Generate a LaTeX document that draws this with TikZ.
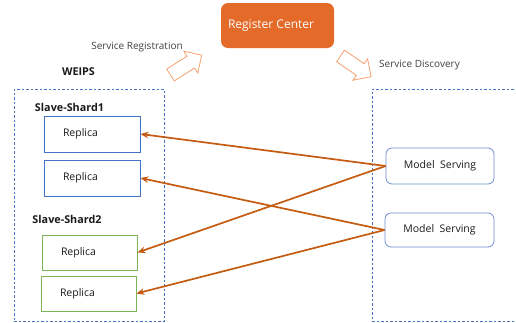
\documentclass[tikz,border=0pt]{standalone}
\usepackage{fontspec}
\setmainfont{Open Sans}
\usetikzlibrary{arrows.meta}
\definecolor{regorange}{HTML}{E46A2A}
\definecolor{arroworange}{HTML}{F4A070}
\definecolor{connorange}{HTML}{C55A11}
\definecolor{boxblue}{HTML}{4472C4}
\definecolor{msblue}{HTML}{6F8FD2}
\definecolor{boxgreen}{HTML}{7DB65A}
\definecolor{txt}{HTML}{1A1A1A}
\definecolor{lighttxt}{HTML}{404040}
\tikzset{
  dashbox/.style={draw=boxblue, line width=0.8pt, dash pattern=on 2.5pt off 2pt},
  replicabox/.style={draw=boxblue, line width=0.8pt, inner xsep=19pt, text width=58pt, align=left, minimum height=36pt, font=\fontsize{10.5}{12}\selectfont, text=txt},
  greenbox/.style={replicabox, draw=boxgreen},
  msbox/.style={draw=msblue, line width=0.8pt, rounded corners=6pt, minimum height=36pt, minimum width=108pt, font=\fontsize{10.5}{12}\selectfont, text=txt},
  conn/.style={draw=connorange, line width=1.7pt, -{Stealth[length=8pt,width=6.5pt]}},
  blockarrow/.style={draw=arroworange, line width=0.8pt, line join=miter},
  lbl/.style={font=\fontsize{10}{12}\selectfont, text=lighttxt, inner sep=0pt},
  head/.style={font=\bfseries\fontsize{10.8}{12}\selectfont, text=txt, inner sep=0pt}
}
\begin{document}
\begin{tikzpicture}[x=1pt,y=-1pt]
\useasboundingbox (0,0) rectangle (516,322);
% register center
\node[fill=regorange, rounded corners=7pt, minimum width=113pt, minimum height=45pt] (reg) at (277.5,25.5) {};
\node[font=\fontsize{12}{14}\selectfont, text=white, inner sep=0pt] (regtext) at (271,25.5) {Register Center};
% labels
\node[lbl] (sreg) at (137,47) {Service Registration};
\node[lbl] (sdisc) at (419.5,65) {Service Discovery};
% block arrows
\draw[blockarrow] (174.3,80.9) -- (194.5,68.0) -- (197.8,73.1) -- (201.7,55.2) -- (183.8,51.1) -- (187.0,56.2) -- (166.7,69.1) -- cycle;
\draw[blockarrow] (344.4,50.2) -- (364.2,63.7) -- (367.6,58.8) -- (371.1,76.8) -- (353.0,80.2) -- (356.4,75.3) -- (336.6,61.8) -- cycle;
% dashed containers
\node[dashbox, minimum width=150pt, minimum height=232pt] (weips) at (89,205) {};
\node[dashbox, minimum width=146pt, minimum height=232pt] (serving) at (445,205) {};
\node[head] (weipslbl) at (78.5,72) {WEIPS};
\node[head] (shard1) at (69.5,107) {Slave-Shard1};
\node[head] (shard2) at (67,219) {Slave-Shard2};
% replicas
\node[replicabox, minimum height=36pt] (r1) at (92,134) {Replica};
\node[replicabox, minimum height=36pt] (r2) at (92,178) {Replica};
\node[greenbox, minimum height=35pt, text width=57pt] (r3) at (89.5,252.5) {Replica};
\node[greenbox, minimum height=35pt, text width=57pt] (r4) at (88.5,293.5) {Replica};
% model serving
\node[msbox] (ms1) at (440,166) {Model~~Serving};
\node[msbox, minimum width=109pt, minimum height=34pt] (ms2) at (439.5,230) {Model~~Serving};
% connectors
\draw[conn] (ms1.west) -- (r1.east);
\draw[conn] (ms1.west) -- (r3.east);
\draw[conn] (ms2.west) -- (r2.east);
\draw[conn] (ms2.west) -- (r4.east);
\end{tikzpicture}
\end{document}
